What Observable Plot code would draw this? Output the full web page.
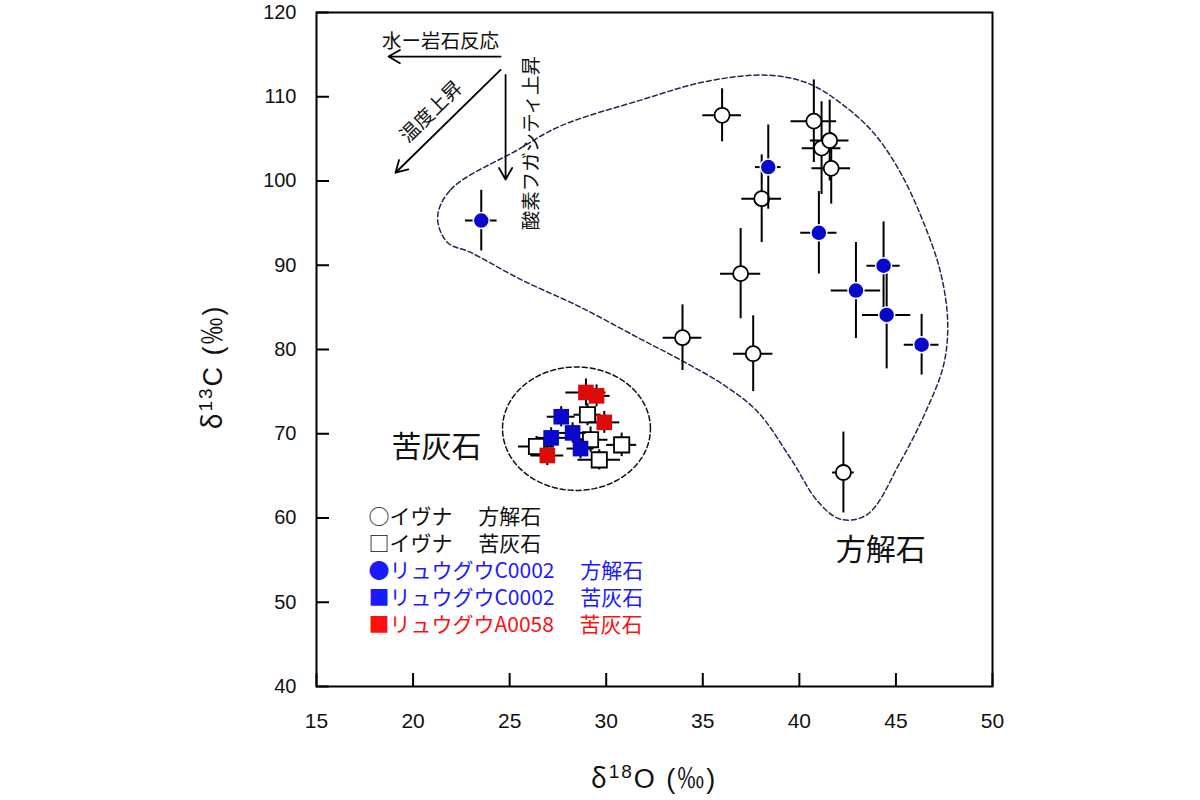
<!DOCTYPE html>
<html><head><meta charset="utf-8">
<script src="https://cdn.jsdelivr.net/npm/d3@7"></script>
<script src="https://cdn.jsdelivr.net/npm/@observablehq/plot@0.6"></script>
<style>body{margin:0;background:#fff;}</style>
</head><body><div id="chart"></div>
<script>
// ---------- data ----------
const xTicks = [15, 20, 25, 30, 35, 40, 45, 50];
const yTicks = [40, 50, 60, 70, 80, 90, 100, 110, 120];

// Ivuna calcite (open circles)
const ivunaCalcX    = [36.0, 40.75, 41.15, 41.57, 41.65, 38.05, 36.96, 33.95, 37.61, 42.28];
const ivunaCalcY    = [107.8, 107.1, 103.9, 104.8, 101.5, 97.9, 89.0, 81.4, 79.5, 65.4];
const ivunaCalcXErr = [1.0, 1.18, 1.0, 1.0, 1.0, 1.03, 1.04, 1.0, 1.02, 0.56];
const ivunaCalcYErr = [3.15, 4.9, 5.5, 4.8, 4.25, 5.2, 5.35, 3.9, 4.5, 4.8];

// Ryugu C0002 calcite (blue circles)
const ryuguCalcX    = [23.53, 38.39, 41.01, 44.36, 42.93, 44.52, 46.33];
const ryuguCalcY    = [95.3, 101.65, 93.85, 89.95, 87.0, 84.1, 80.57];
const ryuguCalcXErr = [0.82, 0.66, 0.94, 0.86, 1.28, 1.25, 0.9];
const ryuguCalcYErr = [3.6, 5.0, 4.9, 5.2, 5.7, 6.4, 3.6];

// Ivuna dolomite (open squares)
const ivunaDoloX    = [29.03, 29.19, 26.39, 30.8, 29.64];
const ivunaDoloY    = [72.26, 69.3, 68.48, 68.68, 66.9];
const ivunaDoloXErr = [0.7, 0.9, 0.93, 0.78, 1.1];
const ivunaDoloYErr = [1.3, 1.5, 1.2, 1.4, 1.2];

// Ryugu C0002 dolomite (blue squares)
const c0002DoloX    = [27.67, 28.26, 27.15, 28.67];
const c0002DoloY    = [72.02, 70.1, 69.51, 68.24];
const c0002DoloXErr = [0.72, 0.7, 0.75, 0.7];
const c0002DoloYErr = [1.2, 1.2, 1.2, 1.2];

// Ryugu A0058 dolomite (red squares)
const a0058DoloX    = [28.95, 29.5, 29.9, 26.95];
const a0058DoloY    = [74.9, 74.5, 71.35, 67.42];
const a0058DoloXErr = [1.04, 0.7, 0.8, 0.85];
const a0058DoloYErr = [1.6, 1.3, 1.3, 1.2];

// calcite field outline (dashed)
const blobX = [21.27, 21.94, 25.41, 27.64, 31.78, 35.25, 38.36, 40.43, 42.14, 43.85, 45.24, 46.43, 47.31, 47.68, 47.47, 46.54, 45.24, 43.53, 42.14, 40.95, 39.55, 37.84, 36.08, 33.85, 31.78, 28.67, 25.56, 22.98, 21.78];
const blobY = [95.66, 98.96, 103.69, 106.53, 109.6, 111.85, 112.56, 111.61, 109.25, 105.7, 100.97, 95.07, 89.16, 83.25, 78.17, 72.61, 66.71, 60.44, 59.85, 61.98, 67.06, 72.61, 75.8, 78.76, 81.24, 85.02, 88.33, 91.52, 92.7];

// dolomite field ellipse: centre and radii
const ellipseCenter = [28.46, 70.6];
const ellipseRadii = [3.83, 7.33];

// arrows
const arrowX1 = [24.53, 24.53, 24.79];
const arrowY1 = [114.77, 113.18, 112.59];
const arrowX2 = [18.73, 19.09, 24.79];
const arrowY2 = [114.77, 100.98, 100.18];

// annotation texts
const noteTexts = ["水ー岩石反応", "温度上昇", "酸素フガシティ上昇"];
const noteX = [21.42, 20.95, 26.17];
const noteY = [116.57, 108.2, 104.5];
const noteRotate = [0, -44.5, -90];

const fieldLabels = ["苦灰石", "方解石"];
const fieldX = [21.21, 44.21];
const fieldY = [68.36, 56.19];

const legendLabels = ["○イヴナ　 方解石", "□イヴナ　 苦灰石", "●リュウグウC0002　 方解石", "■リュウグウC0002　 苦灰石", "■リュウグウA0058　 苦灰石"];
const legendColors = ["#111111", "#111111", "#1a1aff", "#1a1aff", "#ff1010"];

const BLUE = "#0808cc";
const RED = "#dd0a0a";
const JP = "'Noto Sans CJK JP', sans-serif";
const AR = "'Liberation Sans', Arial, sans-serif";

// ---------- build ----------
const rows = (xs, ys, xe, ye) => xs.map((x, i) => ({x, y: ys[i], xe: xe[i], ye: ye[i]}));
const ivunaCalc = rows(ivunaCalcX, ivunaCalcY, ivunaCalcXErr, ivunaCalcYErr);
const ryuguCalc = rows(ryuguCalcX, ryuguCalcY, ryuguCalcXErr, ryuguCalcYErr);
const ivunaDolo = rows(ivunaDoloX, ivunaDoloY, ivunaDoloXErr, ivunaDoloYErr);
const c0002Dolo = rows(c0002DoloX, c0002DoloY, c0002DoloXErr, c0002DoloYErr);
const a0058Dolo = rows(a0058DoloX, a0058DoloY, a0058DoloXErr, a0058DoloYErr);

const blob = blobX.map((x, i) => ({x, y: blobY[i]}));
const ellipse = d3.range(0, 360, 4).map(a => ({
  x: ellipseCenter[0] + ellipseRadii[0] * Math.cos(a * Math.PI / 180),
  y: ellipseCenter[1] + ellipseRadii[1] * Math.sin(a * Math.PI / 180)
}));
const arrows = arrowX1.map((x1, i) => ({x1, y1: arrowY1[i], x2: arrowX2[i], y2: arrowY2[i]}));
const notes = noteTexts.map((t, i) => ({t, x: noteX[i], y: noteY[i], r: noteRotate[i]}));
const fields = fieldLabels.map((t, i) => ({t, x: fieldX[i], y: fieldY[i]}));
const legend = legendLabels.map((t, i) => ({t, c: legendColors[i], i}));

function errorBars(data) {
  return [
    Plot.ruleX(data, {x: "x", y1: d => d.y - d.ye, y2: d => d.y + d.ye, stroke: "black", strokeWidth: 2}),
    Plot.ruleY(data, {y: "y", x1: d => d.x - d.xe, x2: d => d.x + d.xe, stroke: "black", strokeWidth: 2})
  ];
}

const W = 1200, H = 800, ML = 316, MR = 208, MT = 12, MB = 114;
const frameW = W - ML - MR, frameH = H - MT - MB;

const chart = Plot.plot({
  width: W, height: H,
  marginLeft: ML, marginRight: MR, marginTop: MT, marginBottom: MB,
  style: {fontFamily: AR, fontSize: "20px", background: "white", color: "#111"},
  x: {domain: [15, 50]},
  y: {domain: [40, 120]},
  marks: [
    Plot.axisX({ticks: xTicks, tickSize: 0, tickPadding: 27, label: null, fontSize: 21}),
    Plot.axisY({ticks: yTicks, tickSize: 0, tickPadding: 20, label: null, fontSize: 20}),
    Plot.tickY(yTicks, {y: d => d, stroke: "black", strokeWidth: 2, insetRight: frameW - 13}),
    Plot.tickX(xTicks, {x: d => d, stroke: "black", strokeWidth: 2, insetTop: frameH - 13}),
    Plot.line(blob, {x: "x", y: "y", curve: "catmull-rom-closed", stroke: "#1d2a55", strokeWidth: 1.5, strokeDasharray: "5,3"}),
    Plot.line(ellipse, {x: "x", y: "y", curve: "linear-closed", stroke: "#111", strokeWidth: 1.5, strokeDasharray: "5,3"}),
    Plot.arrow(arrows, {x1: "x1", y1: "y1", x2: "x2", y2: "y2", stroke: "black", strokeWidth: 1.8, headLength: 11}),
    ...errorBars(ivunaCalc),
    Plot.dot(ivunaCalc, {x: "x", y: "y", r: 7.5, fill: "white", stroke: "black", strokeWidth: 1.8}),
    ...errorBars(ryuguCalc),
    Plot.dot(ryuguCalc, {x: "x", y: "y", r: 8, fill: BLUE, stroke: "white", strokeWidth: 1.5}),
    ...errorBars(ivunaDolo),
    Plot.dot(ivunaDolo, {x: "x", y: "y", symbol: "square", r: 8.6, fill: "white", stroke: "black", strokeWidth: 1.8}),
    ...errorBars(c0002Dolo),
    Plot.dot(c0002Dolo, {x: "x", y: "y", symbol: "square", r: 8.8, fill: BLUE}),
    ...errorBars(a0058Dolo),
    Plot.dot(a0058Dolo, {x: "x", y: "y", symbol: "square", r: 8.8, fill: RED}),
    Plot.text(notes, {x: "x", y: "y", text: "t", rotate: "r", fontFamily: JP, fontSize: 19.5, fill: "#111", ariaLabel: "notes"}),
    Plot.text(fields, {x: "x", y: "y", text: "t", fontFamily: JP, fontSize: 30, fill: "#111", ariaLabel: "fields"}),
    Plot.text(legend, {x: () => 17.69, y: d => 60.1 - d.i * 3.22, text: "t", fill: "c", textAnchor: "start", fontFamily: JP, fontSize: 21, ariaLabel: "legend"}),
    Plot.frame({stroke: "black", strokeWidth: 2})
  ]
});

const svg = d3.select(chart);
svg.selectAll('g[aria-label="notes"] text').style("letter-spacing", "5.5px");
svg.selectAll('g[aria-label="fields"] text').style("letter-spacing", "4px");
svg.selectAll('g[aria-label="legend"] text').style("letter-spacing", "1.5px");

// axis titles with superscripts
const xl = svg.append("text")
  .attr("text-anchor", "middle")
  .attr("transform", `translate(${ML + frameW / 2},788)`)
  .style("font-family", AR).style("font-size", "27px").style("letter-spacing", "2px").style("fill", "#111");
xl.append("tspan").style("font-family", JP).text("δ");
xl.append("tspan").attr("dy", -10).style("font-size", "19px").text("18");
xl.append("tspan").attr("dy", 10).text("O (");
xl.append("tspan").style("font-family", JP).text("‰");
xl.append("tspan").text(")");

const yl = svg.append("text")
  .attr("text-anchor", "middle")
  .attr("transform", `translate(222,${MT + frameH / 2 + 18}) rotate(-90)`)
  .style("font-family", AR).style("font-size", "27px").style("letter-spacing", "2px").style("fill", "#111");
yl.append("tspan").style("font-family", JP).text("δ");
yl.append("tspan").attr("dy", -10).style("font-size", "19px").text("13");
yl.append("tspan").attr("dy", 10).text("C (");
yl.append("tspan").style("font-family", JP).text("‰");
yl.append("tspan").text(")");

document.getElementById("chart").appendChild(chart);
</script>
</body></html>
